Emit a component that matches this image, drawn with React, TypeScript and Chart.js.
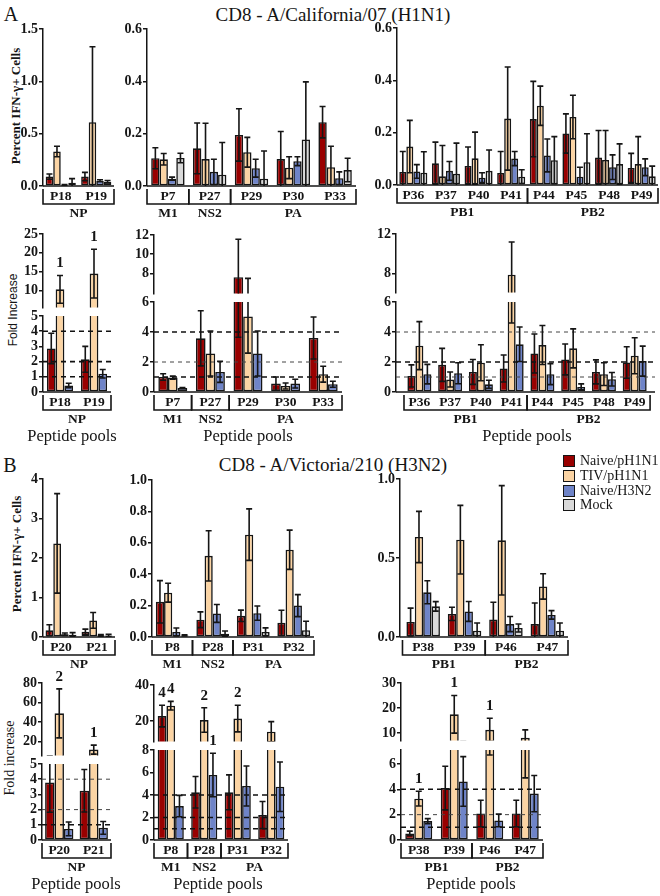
import React, { useEffect, useRef } from 'react';
import { Chart, registerables } from 'chart.js';
Chart.register(...registerables);

// ---------------- data ----------------
const SERIES = ['Naive/pH1N1', 'TIV/pH1N1', 'Naive/H3N2', 'Mock'];
const COLORS = ['#990000', '#fbd4a4', '#6f84c8', '#d9d9d9'];

// A. CD8 - A/California/07 (H1N1)
const A_NP_PEPTIDES = ['P18', 'P19'];
const A_NP_GROUPS = [{ name: 'NP', from: 0, to: 1 }];
const A_NP_PCT = [[0.09, 0.09], [0.33, 0.61], [0.01, 0.05], [0.03, 0.04]];
const A_NP_PCT_ERR = [[0.025, 0.04], [0.05, 0.72], [0.005, 0.01], [0.04, 0.012]];
const A_NP_FOLD = [[2.87, 2.15], [10.26, 14.45], [0.43, 1.2]];
const A_NP_FOLD_ERR = [[1.0, 0.85], [3.7, 6.5], [0.15, 0.28]];
const A_NP_NOTES = [{ s: 1, i: 0, t: '1' }, { s: 1, i: 1, t: '1' }];

const A_MPA_PEPTIDES = ['P7', 'P27', 'P29', 'P30', 'P33'];
const A_MPA_GROUPS = [{ name: 'M1', from: 0, to: 0 }, { name: 'NS2', from: 1, to: 1 }, { name: 'PA', from: 2, to: 4 }];
const A_MPA_PCT = [
  [0.106, 0.144, 0.195, 0.103, 0.244],
  [0.102, 0.103, 0.129, 0.07, 0.072],
  [0.028, 0.054, 0.068, 0.095, 0.03],
  [0.107, 0.043, 0.028, 0.178, 0.061],
];
const A_MPA_PCT_ERR = [
  [0.04, 0.097, 0.1, 0.105, 0.06],
  [0.022, 0.137, 0.057, 0.042, 0.08],
  [0.006, 0.048, 0.034, 0.017, 0.024],
  [0.018, 0.123, 0.106, 0.22, 0.045],
];
const A_MPA_FOLD = [
  [1.0, 3.58, 7.6, 0.56, 3.6],
  [0.96, 2.57, 5.04, 0.4, 1.19],
  [0.27, 1.34, 2.57, 0.56, 0.52],
];
const A_MPA_FOLD_ERR = [
  [0.22, 1.84, 3.95, 0.44, 1.4],
  [0.1, 1.5, 2.45, 0.2, 0.53],
  [0.03, 0.7, 1.5, 0.29, 0.2],
];

const A_PB_PEPTIDES = ['P36', 'P37', 'P40', 'P41', 'P44', 'P45', 'P48', 'P49'];
const A_PB_GROUPS = [{ name: 'PB1', from: 0, to: 3 }, { name: 'PB2', from: 4, to: 7 }];
const A_PB_PCT = [
  [0.05, 0.083, 0.073, 0.046, 0.252, 0.197, 0.105, 0.065],
  [0.147, 0.033, 0.102, 0.254, 0.303, 0.26, 0.096, 0.08],
  [0.052, 0.054, 0.028, 0.101, 0.113, 0.032, 0.068, 0.068],
  [0.047, 0.043, 0.054, 0.032, 0.095, 0.087, 0.08, 0.033],
];
const A_PB_PCT_ERR = [
  [0.078, 0.081, 0.072, 0.082, 0.144, 0.075, 0.103, 0.056],
  [0.1, 0.118, 0.1, 0.197, 0.075, 0.083, 0.112, 0.105],
  [0.026, 0.036, 0.019, 0.027, 0.063, 0.036, 0.047, 0.032],
  [0.08, 0.117, 0.08, 0.026, 0.09, 0.109, 0.077, 0.039],
];
const A_PB_FOLD = [
  [1.07, 1.81, 1.34, 1.57, 2.57, 2.17, 1.34, 1.97],
  [3.09, 0.83, 1.95, 7.9, 3.13, 2.91, 1.19, 2.42],
  [1.19, 1.25, 0.51, 3.18, 1.19, 0.34, 0.85, 2.06],
];
const A_PB_FOLD_ERR = [
  [0.74, 1.1, 0.83, 0.9, 1.3, 1.03, 0.8, 1.05],
  [1.6, 0.5, 1.2, 3.3, 1.3, 1.3, 0.76, 1.2],
  [0.65, 0.7, 0.27, 1.15, 0.7, 0.2, 0.45, 1.0],
];

// B. CD8 - A/Victoria/210 (H3N2)
const B_NP_PEPTIDES = ['P20', 'P21'];
const B_NP_GROUPS = [{ name: 'NP', from: 0, to: 1 }];
const B_NP_PCT = [[0.17, 0.13], [2.37, 0.42], [0.07, 0.04], [0.06, 0.04]];
const B_NP_PCT_ERR = [[0.14, 0.07], [1.26, 0.2], [0.03, 0.02], [0.05, 0.03]];
const B_NP_FOLD = [[3.78, 3.24], [49, 12], [0.73, 0.8]];
const B_NP_FOLD_ERR = [[1.95, 1.4], [25, 4.6], [0.45, 0.42]];
const B_NP_NOTES = [{ s: 1, i: 0, t: '2' }, { s: 1, i: 1, t: '1' }];

const B_MPA_PEPTIDES = ['P8', 'P28', 'P31', 'P32'];
const B_MPA_GROUPS = [{ name: 'M1', from: 0, to: 0 }, { name: 'NS2', from: 1, to: 1 }, { name: 'PA', from: 2, to: 3 }];
const B_MPA_PCT = [
  [0.224, 0.11, 0.135, 0.09],
  [0.282, 0.517, 0.652, 0.556],
  [0.032, 0.15, 0.152, 0.2],
  [0.01, 0.021, 0.032, 0.043],
];
const B_MPA_PCT_ERR = [
  [0.135, 0.05, 0.036, 0.08],
  [0.06, 0.16, 0.164, 0.125],
  [0.025, 0.057, 0.045, 0.07],
  [0.004, 0.017, 0.026, 0.057],
];
const B_MPA_FOLD = [
  [22.7, 4.24, 4.24, 2.22],
  [28.5, 20.5, 21.3, 14],
  [3.02, 5.78, 4.8, 4.74],
];
const B_MPA_FOLD_ERR = [
  [6, 1.4, 1.55, 1.2],
  [2.4, 6.8, 7.4, 5.6],
  [0.95, 1.93, 1.78, 2.2],
];
const B_MPA_NOTES = [
  { s: 0, i: 0, t: '4' }, { s: 1, i: 0, t: '4' }, { s: 1, i: 1, t: '2' },
  { s: 2, i: 1, t: '1' }, { s: 1, i: 2, t: '2' },
];

const B_PB_PEPTIDES = ['P38', 'P39', 'P46', 'P47'];
const B_PB_GROUPS = [{ name: 'PB1', from: 0, to: 1 }, { name: 'PB2', from: 2, to: 3 }];
const B_PB_PCT = [
  [0.095, 0.146, 0.11, 0.082],
  [0.633, 0.616, 0.612, 0.32],
  [0.283, 0.162, 0.082, 0.14],
  [0.194, 0.04, 0.057, 0.04],
];
const B_PB_PCT_ERR = [
  [0.088, 0.042, 0.11, 0.133],
  [0.162, 0.217, 0.346, 0.08],
  [0.073, 0.063, 0.048, 0.027],
  [0.03, 0.049, 0.025, 0.049],
];
const B_PB_FOLD = [
  [0.52, 4.1, 2.09, 2.09],
  [3.26, 17.5, 11.3, 8.1],
  [1.49, 4.62, 1.54, 3.66],
];
const B_PB_FOLD_ERR = [
  [0.18, 1.72, 1.04, 1.04],
  [0.58, 7.5, 4.6, 3.2],
  [0.2, 1.96, 0.5, 1.43],
];
const B_PB_NOTES = [{ s: 1, i: 0, t: '1' }, { s: 1, i: 1, t: '1' }, { s: 1, i: 2, t: '1' }];

const POOLS_LABEL = 'Peptide pools';

// ---------------- layout ----------------
type Group = { name: string; from: number; to: number };
type Note = { s: number; i: number; t: string };
type Ref = { v: number; w: number };
type SegCfg = { top: number; bottom: number; min: number; max: number; ticks: number[]; dec: number };
type PanelCfg = {
  x: number; right: number; gapL?: number; gapR?: number; catPct: number;
  labels: string[]; groups: Group[]; values: number[][]; errors: number[][];
  segs: SegCfg[]; refs?: Ref[]; notes?: Note[]; pools?: number;
};

const YW = 34;
const PAD_L = 2;
const PAD_R = 2;
const SERIF = '"Liberation Serif", "Times New Roman", serif';
const INK = '#151515';
const CAP = 3;

const PANELS: PanelCfg[] = [
  // A row 1
  { x: 43, right: 114, catPct: 0.85, labels: A_NP_PEPTIDES, groups: A_NP_GROUPS, values: A_NP_PCT, errors: A_NP_PCT_ERR,
    segs: [{ top: 29, bottom: 186, min: 0, max: 1.5, ticks: [0, 0.5, 1, 1.5], dec: 1 }] },
  { x: 147, right: 356, catPct: 0.8, labels: A_MPA_PEPTIDES, groups: A_MPA_GROUPS, values: A_MPA_PCT, errors: A_MPA_PCT_ERR,
    segs: [{ top: 29, bottom: 186, min: 0, max: 0.6, ticks: [0, 0.2, 0.4, 0.6], dec: 1 }] },
  { x: 397, right: 658, catPct: 0.86, labels: A_PB_PEPTIDES, groups: A_PB_GROUPS, values: A_PB_PCT, errors: A_PB_PCT_ERR,
    segs: [{ top: 28, bottom: 185, min: 0, max: 0.6, ticks: [0, 0.2, 0.4, 0.6], dec: 1 }] },
  // A row 2
  { x: 43, right: 111, catPct: 0.77, labels: A_NP_PEPTIDES, groups: A_NP_GROUPS, values: A_NP_FOLD, errors: A_NP_FOLD_ERR,
    notes: A_NP_NOTES, pools: 72, refs: [{ v: 4, w: 1.6 }, { v: 2, w: 1.6 }, { v: 1, w: 1.6 }],
    segs: [
      { top: 234, bottom: 309, min: 5.4, max: 25, ticks: [10, 15, 20, 25], dec: 0 },
      { top: 316, bottom: 392, min: 0, max: 5, ticks: [0, 1, 2, 3, 4, 5], dec: 0 },
    ] },
  { x: 154, right: 342, catPct: 0.77, labels: A_MPA_PEPTIDES, groups: A_MPA_GROUPS, values: A_MPA_FOLD, errors: A_MPA_FOLD_ERR,
    pools: 248, refs: [{ v: 4, w: 1.6 }, { v: 2, w: 1 }, { v: 1, w: 1.6 }],
    segs: [
      { top: 235, bottom: 295, min: 5.9, max: 12, ticks: [8, 10, 12], dec: 0 },
      { top: 302, bottom: 392, min: 0, max: 6, ticks: [0, 2, 4, 6], dec: 0 },
    ] },
  { x: 396, right: 655, gapL: 0.26, gapR: 0.16, catPct: 0.78, labels: A_PB_PEPTIDES, groups: A_PB_GROUPS, values: A_PB_FOLD, errors: A_PB_FOLD_ERR,
    pools: 527, refs: [{ v: 4, w: 1 }, { v: 2, w: 1.6 }, { v: 1, w: 1 }],
    segs: [
      { top: 234, bottom: 294, min: 6.1, max: 12, ticks: [8, 12], dec: 0 },
      { top: 302, bottom: 392, min: 0, max: 6, ticks: [0, 2, 4, 6], dec: 0 },
    ] },
  // B row 1
  { x: 43, right: 115, catPct: 0.86, labels: B_NP_PEPTIDES, groups: B_NP_GROUPS, values: B_NP_PCT, errors: B_NP_PCT_ERR,
    segs: [{ top: 479, bottom: 637, min: 0, max: 4, ticks: [0, 1, 2, 3, 4], dec: 0 }] },
  { x: 152, right: 314, catPct: 0.81, labels: B_MPA_PEPTIDES, groups: B_MPA_GROUPS, values: B_MPA_PCT, errors: B_MPA_PCT_ERR,
    segs: [{ top: 480, bottom: 637, min: 0, max: 1, ticks: [0, 0.2, 0.4, 0.6, 0.8, 1], dec: 1 }] },
  { x: 400, right: 568, gapL: 0.06, catPct: 0.81, labels: B_PB_PEPTIDES, groups: B_PB_GROUPS, values: B_PB_PCT, errors: B_PB_PCT_ERR,
    segs: [{ top: 479, bottom: 637, min: 0, max: 1, ticks: [0, 0.5, 1], dec: 1 }] },
  // B row 2
  { x: 42, right: 111, catPct: 0.82, labels: B_NP_PEPTIDES, groups: B_NP_GROUPS, values: B_NP_FOLD, errors: B_NP_FOLD_ERR,
    notes: B_NP_NOTES, pools: 76, refs: [{ v: 4, w: 1 }, { v: 2, w: 1 }, { v: 1, w: 1.6 }],
    segs: [
      { top: 683, bottom: 757, min: 5.9, max: 80, ticks: [20, 40, 60, 80], dec: 0 },
      { top: 764, bottom: 840, min: 0, max: 5, ticks: [0, 1, 2, 3, 4, 5], dec: 0 },
    ] },
  { x: 154, right: 288, catPct: 0.78, labels: B_MPA_PEPTIDES, groups: B_MPA_GROUPS, values: B_MPA_FOLD, errors: B_MPA_FOLD_ERR,
    notes: B_MPA_NOTES, pools: 218, refs: [{ v: 4, w: 1.6 }, { v: 2, w: 1.6 }, { v: 1, w: 1.6 }],
    segs: [
      { top: 685, bottom: 743, min: 8.5, max: 40, ticks: [20, 40], dec: 0 },
      { top: 750, bottom: 840, min: 0, max: 8, ticks: [0, 2, 4, 6, 8], dec: 0 },
    ] },
  { x: 401, right: 543, catPct: 0.76, labels: B_PB_PEPTIDES, groups: B_PB_GROUPS, values: B_PB_FOLD, errors: B_PB_FOLD_ERR,
    notes: B_PB_NOTES, pools: 471, refs: [{ v: 4, w: 1.6 }, { v: 2, w: 1 }, { v: 1, w: 1.6 }],
    segs: [
      { top: 683, bottom: 742, min: 7.0, max: 30, ticks: [10, 20, 30], dec: 0 },
      { top: 750, bottom: 840, min: 0, max: 7.1, ticks: [0, 2, 4, 6], dec: 0 },
    ] },
];

type Role = 'single' | 'upper' | 'lower';

function makeDecor(cfg: PanelCfg, seg: SegCfg, role: Role, upperMin?: number) {
  return {
    id: 'decor',
    afterDatasetsDraw(chart: any) {
      const { ctx, chartArea: a } = chart;
      const ys = chart.scales.y;
      const xs = chart.scales.x;
      ctx.save();
      ctx.beginPath();
      ctx.rect(a.left, a.top, a.right - a.left, a.bottom - a.top);
      ctx.clip();
      (cfg.refs || []).forEach((r) => {
        const y = ys.getPixelForValue(r.v);
        ctx.setLineDash(r.w > 1.2 ? [5, 4] : [4, 4]);
        ctx.lineWidth = r.w;
        ctx.strokeStyle = r.w > 1.2 ? '#111' : '#444';
        ctx.beginPath();
        ctx.moveTo(a.left, y);
        ctx.lineTo(a.right, y);
        ctx.stroke();
      });
      ctx.setLineDash([]);
      ctx.strokeStyle = INK;
      ctx.lineWidth = 1.6;
      cfg.values.forEach((vals, s) => {
        const meta = chart.getDatasetMeta(s);
        vals.forEach((v, i) => {
          const el = meta.data[i];
          if (!el) return;
          const e = cfg.errors[s][i];
          const x = el.x;
          const yt = ys.getPixelForValue(v + e);
          const yb = ys.getPixelForValue(Math.max(v - e, 0));
          ctx.beginPath();
          ctx.moveTo(x, yt);
          ctx.lineTo(x, yb);
          ctx.moveTo(x - CAP, yt);
          ctx.lineTo(x + CAP, yt);
          if (v - e > 0) {
            ctx.moveTo(x - CAP, yb);
            ctx.lineTo(x + CAP, yb);
          }
          ctx.stroke();
        });
      });
      ctx.restore();

      // significance notes
      ctx.save();
      ctx.fillStyle = INK;
      ctx.font = `bold 15px ${SERIF}`;
      ctx.textAlign = 'center';
      ctx.textBaseline = 'middle';
      (cfg.notes || []).forEach((n) => {
        const v = cfg.values[n.s][n.i] + cfg.errors[n.s][n.i];
        let show = true;
        if (role === 'upper') show = v >= seg.min && v <= seg.max + 1e-6;
        if (role === 'lower') show = v <= seg.max && !(upperMin !== undefined && v >= upperMin);
        if (!show) return;
        const el = chart.getDatasetMeta(n.s).data[n.i];
        ctx.fillText(n.t, el.x, ys.getPixelForValue(v) - 12);
      });
      ctx.restore();

      if (role === 'upper') return;
      const y0 = a.bottom;
      ctx.save();
      ctx.strokeStyle = INK;
      ctx.lineWidth = 1.5;
      ctx.beginPath();
      ctx.moveTo(a.left, y0);
      ctx.lineTo(a.right, y0);
      ctx.stroke();
      ctx.fillStyle = INK;
      ctx.textAlign = 'center';
      ctx.textBaseline = 'middle';
      ctx.font = `bold 13.5px ${SERIF}`;
      cfg.labels.forEach((l, i) => ctx.fillText(l, xs.getPixelForValue(i), y0 + 11));
      ctx.lineWidth = 1.6;
      cfg.groups.forEach((g) => {
        const xl = xs.getPixelForValue(g.from - 0.5);
        const xr = xs.getPixelForValue(g.to + 0.5);
        ctx.beginPath();
        ctx.moveTo(xl, y0 + 3);
        ctx.lineTo(xl, y0 + 18);
        ctx.lineTo(xr, y0 + 18);
        ctx.lineTo(xr, y0 + 3);
        ctx.stroke();
        ctx.fillText(g.name, (xl + xr) / 2, y0 + 28);
      });
      ctx.restore();
    },
  };
}

function Segment({ cfg, seg, role, upperMin }: { cfg: PanelCfg; seg: SegCfg; role: Role; upperMin?: number }) {
  const ref = useRef<HTMLCanvasElement | null>(null);
  const padT = role === 'upper' ? 34 : role === 'lower' ? 24 : 12;
  const padB = role === 'upper' ? 8 : role === 'lower' ? 40 : 40;
  const w = PAD_L + YW + (cfg.right - cfg.x) + PAD_R;
  const h = padT + (seg.bottom - seg.top) + padB;
  useEffect(() => {
    const n = cfg.labels.length;
    const datasets = cfg.values.map((vals, s) => ({
      label: SERIES[s],
      data: vals.map((v, i) => ({ x: i, y: v })),
      backgroundColor: COLORS[s],
      borderColor: INK,
      borderWidth: 1.6,
      borderSkipped: false,
      categoryPercentage: cfg.catPct,
      barPercentage: 1,
      clip: 0,
    }));
    const chart = new Chart(ref.current as HTMLCanvasElement, {
      type: 'bar',
      data: { datasets } as any,
      options: {
        responsive: false,
        animation: false,
        devicePixelRatio: 1,
        layout: { padding: { left: PAD_L, right: PAD_R, top: padT, bottom: padB } },
        plugins: { legend: { display: false }, tooltip: { enabled: false } },
        scales: {
          x: {
            type: 'linear',
            display: false,
            offset: false,
            min: -0.5 - (cfg.gapL || 0),
            max: n - 0.5 + (cfg.gapR || 0),
            afterBuildTicks: (s: any) => {
              s.ticks = cfg.labels.map((_, i) => ({ value: i }));
            },
          },
          y: {
            type: 'linear',
            min: seg.min,
            max: seg.max,
            afterBuildTicks: (s: any) => {
              s.ticks = seg.ticks.map((v) => ({ value: v }));
            },
            afterFit: (s: any) => {
              s.width = YW;
            },
            ticks: {
              callback: (v: any) => Number(v).toFixed(seg.dec),
              font: { family: SERIF, size: 14, weight: 'bold' },
              color: INK,
              padding: 1,
              autoSkip: false,
            },
            grid: { display: true, drawOnChartArea: false, drawTicks: true, tickLength: 4, color: INK, lineWidth: 1.5 },
            border: { display: true, color: INK, width: 1.5 },
          },
        },
      } as any,
      plugins: [makeDecor(cfg, seg, role, upperMin)],
    });
    return () => chart.destroy();
  }, []);
  return (
    <canvas
      ref={ref}
      width={w}
      height={h}
      style={{ position: 'absolute', left: cfg.x - YW - PAD_L, top: seg.top - padT, width: w, height: h }}
    />
  );
}

const txt = (x: number, y: number, s: string, font: string) => (
  <div
    style={{
      position: 'absolute', left: x, top: y, transform: 'translate(-50%, -50%)', whiteSpace: 'nowrap',
      font, lineHeight: 1, color: INK,
    }}
  >
    {s}
  </div>
);

const vtxt = (x: number, y: number, s: string, font: string) => (
  <div
    style={{
      position: 'absolute', left: x, top: y, transform: 'translate(-50%, -50%) rotate(-90deg)', whiteSpace: 'nowrap',
      font, lineHeight: 1, color: INK,
    }}
  >
    {s}
  </div>
);

function Panel({ cfg }: { cfg: PanelCfg }) {
  if (cfg.segs.length === 1) return <Segment cfg={cfg} seg={cfg.segs[0]} role="single" />;
  const low = cfg.segs[1];
  return (
    <>
      <Segment cfg={cfg} seg={cfg.segs[0]} role="upper" />
      <Segment cfg={cfg} seg={low} role="lower" upperMin={cfg.segs[0].min} />
      {cfg.pools !== undefined && txt(cfg.pools, low.bottom + 44, POOLS_LABEL, `16.5px ${SERIF}`)}
    </>
  );
}

export default function App() {
  return (
    <div style={{ position: 'absolute', left: 0, top: 0, width: 660, height: 896, overflow: 'hidden', background: '#fff' }}>
      {txt(11, 14, 'A', `20px ${SERIF}`)}
      {txt(333, 14, 'CD8 - A/California/07 (H1N1)', `19px ${SERIF}`)}
      {txt(10, 465, 'B', `20px ${SERIF}`)}
      {txt(333, 464, 'CD8 - A/Victoria/210 (H3N2)', `19px ${SERIF}`)}
      {vtxt(15, 106, 'Percent IFN-γ+ Cells', `bold 13px ${SERIF}`)}
      {vtxt(13, 310, 'Fold Increase', '12px "Liberation Sans", Arial, sans-serif')}
      {vtxt(16, 554, 'Percent IFN-γ+ Cells', `bold 13px ${SERIF}`)}
      {vtxt(10, 758, 'Fold increase', `14px ${SERIF}`)}
      {PANELS.map((p, k) => (
        <Panel key={k} cfg={p} />
      ))}
      <div style={{ position: 'absolute', left: 563, top: 454 }}>
        {SERIES.map((s, k) => (
          <div key={s} style={{ display: 'flex', alignItems: 'center', height: 14.7 }}>
            <div style={{ width: 10, height: 10, background: COLORS[k], border: `1.5px solid ${INK}` }} />
            <div style={{ font: `14px ${SERIF}`, marginLeft: 5, color: INK, lineHeight: 1 }}>{s}</div>
          </div>
        ))}
      </div>
    </div>
  );
}
